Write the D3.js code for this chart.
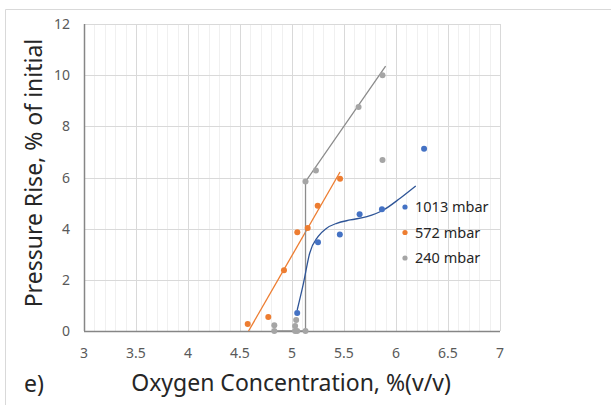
<!DOCTYPE html>
<html>
<head>
<meta charset="utf-8">
<script src="https://cdn.jsdelivr.net/npm/d3@7.9.0/dist/d3.min.js"></script>
<style>
  body { margin: 0; background: #fff; }
  text { font-family: "Noto Sans", "Open Sans", sans-serif; }
</style>
</head>
<body>
<svg width="611" height="405"></svg>
<script>
// data
const blueX = [5.05, 5.25, 5.46, 5.65, 5.865, 6.27];
const blueY = [0.70, 3.47, 3.77, 4.56, 4.76, 7.12];
const orangeX = [4.574, 4.772, 4.923, 5.051, 5.151, 5.247, 5.462];
const orangeY = [0.27, 0.55, 2.37, 3.86, 4.03, 4.90, 5.95];
const grayX = [4.83, 4.83, 5.03, 5.04, 5.03, 5.05, 5.13, 5.13, 5.23, 5.64, 5.87, 5.87];
const grayY = [0.22, 0, 0.20, 0.43, 0, 0, 0, 5.84, 6.27, 8.76, 10.0, 6.68];
// trend lines
const blueTrendX = [5.05, 5.11, 5.17, 5.25, 5.33, 5.43, 5.56, 5.72, 5.88, 6.04, 6.19];
const blueTrendY = [0.82, 1.86, 3.04, 3.69, 4.01, 4.21, 4.34, 4.47, 4.73, 5.19, 5.67];
const grayLineX = [4.83, 5.13, 5.13, 5.90];
const grayLineY = [0, 0, 5.84, 10.35];

const xTicks = [3, 3.5, 4, 4.5, 5, 5.5, 6, 6.5, 7];
const yTicks = [0, 2, 4, 6, 8, 10, 12];
const seriesNames = ['1013 mbar', '572 mbar', '240 mbar'];
const colors = ['#4472C4', '#ED7D31', '#A5A5A5'];

const zip = (a, b) => a.map((v, i) => [v, b[i]]);

let svg = d3.select('svg');

let x = d3.scaleLinear().domain([3, 7]).range([84, 500]);
let y = d3.scaleLinear().domain([0, 12]).range([331, 24]);

// outer frame (only top + left visible)
svg.append('path').attr('d', 'M5.5,405 V9.5 H611').attr('fill', 'none').attr('stroke', '#d9d9d9');

// minor vertical gridlines
let minor = d3.range(30, 71).map(d => d / 10);
svg.append('g').selectAll('line').data(minor).join('line')
  .attr('x1', d => Math.round(x(d)) + 0.5).attr('x2', d => Math.round(x(d)) + 0.5)
  .attr('y1', y(12)).attr('y2', y(0))
  .attr('stroke', '#f0f0f0');

// major gridlines
svg.append('g').selectAll('line').data(xTicks).join('line')
  .attr('x1', d => Math.round(x(d)) + 0.5).attr('x2', d => Math.round(x(d)) + 0.5)
  .attr('y1', y(12)).attr('y2', y(0))
  .attr('stroke', '#d9d9d9');
svg.append('g').selectAll('line').data(yTicks).join('line')
  .attr('x1', x(3)).attr('x2', x(7))
  .attr('y1', d => Math.round(y(d)) + 0.5).attr('y2', d => Math.round(y(d)) + 0.5)
  .attr('stroke', '#d9d9d9');

// axis lines
svg.append('line').attr('x1', x(3)).attr('x2', x(7))
  .attr('y1', Math.round(y(0)) + 0.5).attr('y2', Math.round(y(0)) + 0.5)
  .attr('stroke', '#868686').attr('stroke-width', 1.5);
svg.append('line').attr('x1', Math.round(x(3)) + 0.5).attr('x2', Math.round(x(3)) + 0.5)
  .attr('y1', y(12)).attr('y2', y(0))
  .attr('stroke', '#868686').attr('stroke-width', 1.5);

// tick labels
svg.append('g').selectAll('text').data(xTicks).join('text')
  .attr('x', d => x(d)).attr('y', 358)
  .attr('text-anchor', 'middle').attr('font-size', 14).attr('fill', '#595959')
  .text(d => d);
svg.append('g').selectAll('text').data(yTicks).join('text')
  .attr('x', 70).attr('y', d => y(d) + 5)
  .attr('text-anchor', 'end').attr('font-size', 14).attr('fill', '#595959')
  .text(d => d);

// axis titles
svg.append('text').attr('x', 291).attr('y', 391).attr('text-anchor', 'middle')
  .attr('font-size', 23).attr('fill', '#262626').text('Oxygen Concentration, %(v/v)');
svg.append('text').attr('transform', 'translate(42,173) rotate(-90)').attr('text-anchor', 'middle')
  .attr('font-size', 23).attr('fill', '#262626').text('Pressure Rise, % of initial');
svg.append('text').attr('x', 24).attr('y', 392).attr('font-size', 23).attr('fill', '#262626').text('e)');

// linear fit for 572 mbar, clipped at zero
let mx = d3.mean(orangeX), my = d3.mean(orangeY);
let slope = d3.sum(orangeX, (v, i) => (v - mx) * (orangeY[i] - my)) / d3.sum(orangeX, v => (v - mx) ** 2);
let x0 = Math.max(d3.min(orangeX), mx - my / slope);
let x1 = d3.max(orangeX);
let line = d3.line().x(d => x(d[0])).y(d => y(d[1]));

svg.append('path').attr('d', line([[x0, my + slope * (x0 - mx)], [x1, my + slope * (x1 - mx)]]))
  .attr('fill', 'none').attr('stroke', colors[1]).attr('stroke-width', 1.3);

svg.append('path').attr('d', line(zip(grayLineX, grayLineY)))
  .attr('fill', 'none').attr('stroke', '#8c8c8c').attr('stroke-width', 1.3);

svg.append('path').attr('d', line.curve(d3.curveMonotoneX)(zip(blueTrendX, blueTrendY)))
  .attr('fill', 'none').attr('stroke', '#2F5597').attr('stroke-width', 1.3);

// points
[[blueX, blueY], [orangeX, orangeY], [grayX, grayY]].forEach(([xs, ys], idx) => {
  svg.append('g').selectAll('circle').data(zip(xs, ys)).join('circle')
    .attr('cx', d => x(d[0])).attr('cy', d => y(d[1])).attr('r', 3)
    .attr('fill', colors[idx]);
});

// legend
let legend = svg.append('g');
seriesNames.forEach((name, idx) => {
  let ly = 207 + idx * 25.5;
  legend.append('circle').attr('cx', 405).attr('cy', ly).attr('r', 2.6).attr('fill', colors[idx]);
  legend.append('text').attr('x', 415).attr('y', ly + 5).attr('font-size', 14.5).attr('fill', '#262626').text(name);
});
</script>
</body>
</html>
